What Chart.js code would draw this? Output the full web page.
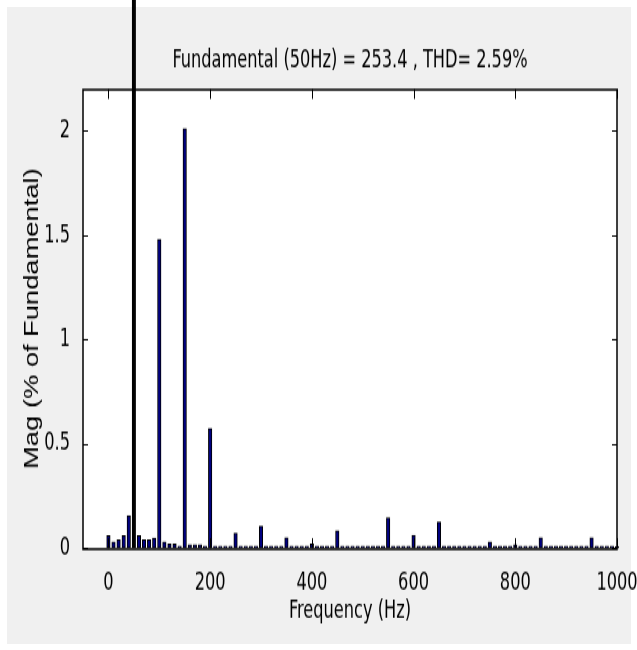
<!DOCTYPE html>
<html>
<head>
<meta charset="utf-8">
<script src="https://cdn.jsdelivr.net/npm/chart.js@4/dist/chart.umd.min.js"></script>
<style>
  body { margin: 0; background: #ffffff; width: 637px; height: 650px; overflow: hidden; position: relative; }
  #frame { position: absolute; left: 7px; top: 7px; width: 624px; height: 637px; background: #f0f0f0; }
  #fft { position: absolute; left: 0; top: 0; transform-origin: 0 0; transform: scaleY(1.4009); }
</style>
</head>
<body>
<div id="frame"></div>
<canvas id="fft" width="637" height="464"></canvas>
<script>
// harmonic spectrum, 10 Hz bins, magnitude in % of the 50 Hz fundamental
var freqs = [0, 10, 20, 30, 40, 50, 60, 70, 80, 90,
    100, 110, 120, 130, 140, 150, 160, 170, 180, 190,
    200, 210, 220, 230, 240, 250, 260, 270, 280, 290,
    300, 310, 320, 330, 340, 350, 360, 370, 380, 390,
    400, 410, 420, 430, 440, 450, 460, 470, 480, 490,
    500, 510, 520, 530, 540, 550, 560, 570, 580, 590,
    600, 610, 620, 630, 640, 650, 660, 670, 680, 690,
    700, 710, 720, 730, 740, 750, 760, 770, 780, 790,
    800, 810, 820, 830, 840, 850, 860, 870, 880, 890,
    900, 910, 920, 930, 940, 950, 960, 970, 980, 990, 1000];
var mags = [0.06, 0.03, 0.04, 0.06, 0.155, 100, 0.06, 0.04, 0.04, 0.048,
    1.48, 0.03, 0.02, 0.02, 0.01, 2.01, 0.016, 0.016, 0.016, 0.01,
    0.573, 0.01, 0.01, 0.01, 0.01, 0.072, 0.01, 0.01, 0.01, 0.01,
    0.105, 0.01, 0.01, 0.01, 0.01, 0.05, 0.01, 0.01, 0.01, 0.01,
    0.02, 0.01, 0.01, 0.01, 0.01, 0.083, 0.01, 0.01, 0.01, 0.01,
    0.01, 0.01, 0.01, 0.01, 0.01, 0.145, 0.01, 0.01, 0.01, 0.01,
    0.061, 0.01, 0.01, 0.01, 0.01, 0.125, 0.01, 0.01, 0.01, 0.01,
    0.01, 0.01, 0.01, 0.01, 0.01, 0.029, 0.01, 0.01, 0.01, 0.01,
    0.016, 0.01, 0.01, 0.01, 0.01, 0.05, 0.01, 0.01, 0.01, 0.01,
    0.01, 0.01, 0.01, 0.01, 0.01, 0.05, 0.01, 0.01, 0.01, 0.01, 0.008];
var xTicks = [0, 200, 400, 600, 800, 1000];
var yTicks = [0, 0.5, 1, 1.5, 2];
var titleText = 'Fundamental (50Hz) = 253.4 , THD= 2.59%';
var yMax = 2.2;

var narrow = '"Liberation Sans Narrow", "Arial Narrow", "DejaVu Sans Condensed", "Liberation Sans", sans-serif';

// matlab style box with inward ticks on all four sides
var boxPlugin = {
    id: 'box',
    beforeDraw: function (chart) {
        var a = chart.chartArea, ctx = chart.ctx;
        ctx.save();
        ctx.fillStyle = '#ffffff';
        ctx.fillRect(a.left, a.top, a.right - a.left, a.bottom - a.top);
        ctx.restore();
    },
    afterDatasetsDraw: function (chart) {
        var a = chart.chartArea, ctx = chart.ctx;
        var xs = chart.scales.x, ys = chart.scales.y;
        ctx.save();
        ctx.strokeStyle = '#000000';
        ctx.lineWidth = 1;
        ctx.beginPath();
        xTicks.forEach(function (v) {
            var px = Math.round(xs.getPixelForValue(v)) + 0.5;
            ctx.moveTo(px, a.bottom); ctx.lineTo(px, a.bottom - 7);
            ctx.moveTo(px, a.top); ctx.lineTo(px, a.top + 7);
        });
        yTicks.forEach(function (v) {
            var py = Math.round(ys.getPixelForValue(v)) + 0.5;
            ctx.moveTo(a.left, py); ctx.lineTo(a.left + 5, py);
            ctx.moveTo(a.right, py); ctx.lineTo(a.right - 5, py);
        });
        ctx.stroke();
        ctx.lineWidth = 1.5;
        ctx.strokeRect(Math.round(a.left), Math.round(a.top), Math.round(a.right - a.left), Math.round(a.bottom - a.top));
        ctx.restore();
    }
};

var ctx = document.getElementById('fft').getContext('2d');
var chart = new Chart(ctx, {
    type: 'bar',
    data: {
        datasets: [{
            data: freqs.map(function (f, i) { return { x: f, y: mags[i] }; }),
            // the off-scale fundamental shows as a plain black line
            backgroundColor: function (c) { return c.raw && c.raw.y > yMax ? '#000000' : '#000080'; },
            borderColor: '#000000',
            borderWidth: 1,
            borderSkipped: false,
            barThickness: 3.5,
            clip: false
        }]
    },
    options: {
        responsive: false,
        animation: false,
        layout: { padding: { left: 0, right: 20, top: 30, bottom: 0 } },
        plugins: {
            legend: { display: false },
            tooltip: { enabled: false },
            title: {
                display: true,
                fullSize: false,
                text: titleText,
                color: '#000000',
                font: { family: narrow, size: 18, weight: 'normal' },
                padding: { top: 3, bottom: 9 }
            }
        },
        scales: {
            x: {
                type: 'linear',
                min: -50,
                max: 1000,
                offset: false,
                grid: { display: false },
                border: { display: false },
                afterBuildTicks: function (s) { s.ticks = xTicks.map(function (v) { return { value: v }; }); },
                afterFit: function (s) { s.height = 72.8; s.paddingLeft = 0; s.paddingRight = 0; },
                ticks: {
                    color: '#000000',
                    padding: 6,
                    maxRotation: 0,
                    font: { family: narrow, size: 18 },
                    callback: function (v) { return String(v); }
                },
                title: {
                    display: true,
                    text: 'Frequency (Hz)',
                    color: '#000000',
                    font: { family: narrow, size: 18 },
                    padding: { top: 0, bottom: 17 }
                }
            },
            y: {
                min: 0,
                max: yMax,
                grid: { display: false },
                border: { display: false },
                afterBuildTicks: function (s) { s.ticks = yTicks.map(function (v) { return { value: v }; }); },
                afterFit: function (s) { s.width = 83; s.paddingTop = 0; s.paddingBottom = 0; },
                ticks: {
                    color: '#000000',
                    padding: 5,
                    font: { family: narrow, size: 18 },
                    callback: function (v) { return String(v); }
                },
                title: {
                    display: true,
                    text: 'Mag (% of Fundamental)',
                    color: '#000000',
                    font: { family: '"Liberation Sans", Arial, sans-serif', size: 19.5 },
                    padding: { top: 21, bottom: 0 }
                }
            }
        }
    },
    plugins: [boxPlugin]
});
</script>
</body>
</html>
